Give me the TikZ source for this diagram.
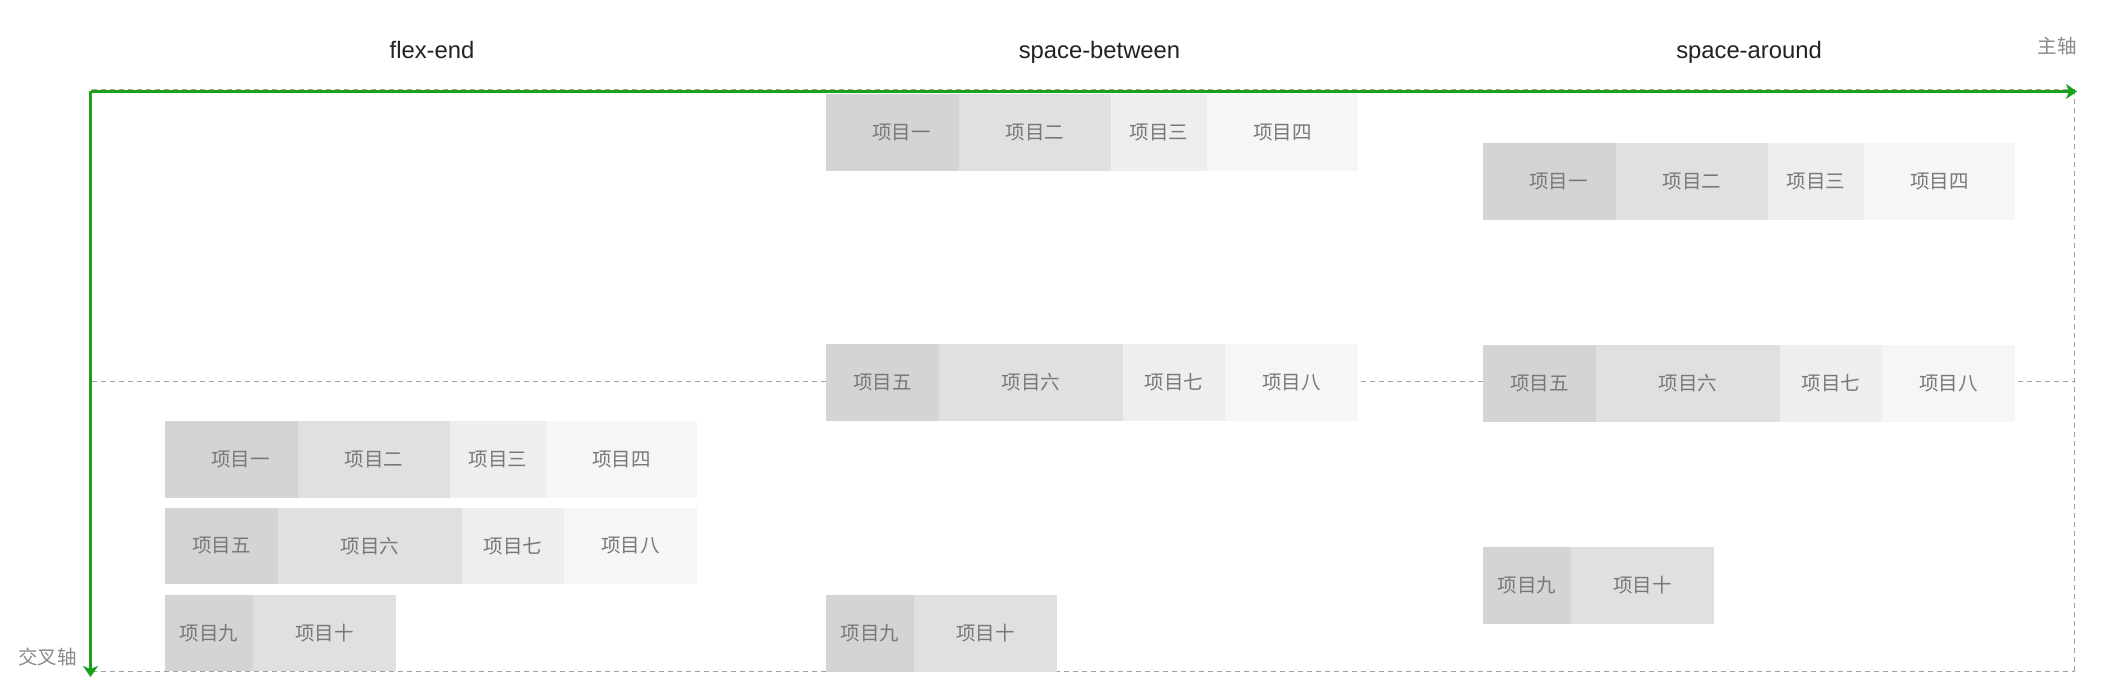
\documentclass[tikz,border=0pt]{standalone}
\usepackage{fontspec}
\setmainfont{Liberation Sans}
\newfontfamily\cjk{Noto Sans CJK SC}
\usetikzlibrary{arrows.meta}
\definecolor{axisgreen}{HTML}{1AA01A}
\definecolor{guidegray}{HTML}{A0A0A0}
\definecolor{cA}{HTML}{D4D4D4}
\definecolor{cB}{HTML}{E0E0E0}
\definecolor{cC}{HTML}{EEEEEE}
\definecolor{cD}{HTML}{F6F6F6}
\definecolor{itemtext}{HTML}{787878}
\definecolor{labeltext}{HTML}{8A8A8A}
\definecolor{titletext}{HTML}{222222}
\tikzset{
  cell/.style={anchor=north west, minimum height=76.5pt, inner sep=0pt, outer sep=0pt,
    font=\cjk\fontsize{19.5}{23}\selectfont, text=itemtext},
  cellA/.style={cell, fill=cA},
  cellB/.style={cell, fill=cB},
  cellC/.style={cell, fill=cC},
  cellD/.style={cell, fill=cD},
  iOne/.style={cellA, minimum width=133pt},
  iTwo/.style={cellB, minimum width=152pt},
  iThree/.style={cellC, minimum width=96pt},
  iFour/.style={cellD, minimum width=151pt},
  iFive/.style={cellA, minimum width=113pt},
  iSix/.style={cellB, minimum width=184pt},
  iSeven/.style={cellC, minimum width=102pt},
  iEight/.style={cellD, minimum width=133pt},
  iNine/.style={cellA, minimum width=88pt},
  iTen/.style={cellB, minimum width=143pt},
  title/.style={anchor=base, text=titletext, font=\fontsize{23.8}{28}\selectfont},
  axislabel/.style={text=labeltext, font=\cjk\fontsize{19.5}{23}\selectfont, inner sep=0pt},
  guide/.style={draw=guidegray, line width=1pt, dash pattern=on 5pt off 4pt},
  axis/.style={draw=axisgreen, line width=2.4pt, -{Stealth[length=11pt, width=15pt, inset=3pt]}},
}
\begin{document}
\begin{tikzpicture}[x=1pt, y=-1pt]
\useasboundingbox (0,0) rectangle (2104,690);
\fill[white] (0,0) rectangle (2104,690);

% reference coordinates
\coordinate (O) at (90.5,91.5);
\coordinate (mainEnd) at (2077,91.5);
\coordinate (crossEnd) at (90.5,677);
\coordinate (topL) at (92,90);
\coordinate (topR) at (2074.5,90);
\coordinate (midL) at (92,381);
\coordinate (midR) at (2074.5,381);
\coordinate (botL) at (92,671);
\coordinate (botR) at (2074.5,671);

% guide lines
\draw[guide] (topL) -- (topR);
\draw[guide] (midL) -- (midR);
\draw[guide] (botL) -- (botR);
\draw[guide] (topR) -- (botR);

% titles
\node[title] (tFE) at (432,59) {flex-end};
\node[title] (tSB) at (1099.5,59) {space-between};
\node[title] (tSA) at (1749,59) {space-around};
\node[axislabel] (lMain) at (2057,46) {主轴};
\node[axislabel] (lCross) at (47.5,657) {交叉轴};

% flex-end
\node[iOne] (fe1) at (165,421) {\hspace*{18pt}项目一};
\node[iTwo] (fe2) at (fe1.north east) {项目二};
\node[iThree] (fe3) at (fe2.north east) {项目三};
\node[iFour] (fe4) at (fe3.north east) {项目四};
\node[iFive] (fe5) at (165,507.5) {项目五};
\node[iSix] (fe6) at (fe5.north east) {项目六};
\node[iSeven] (fe7) at (fe6.north east) {项目七};
\node[iEight] (fe8) at (fe7.north east) {项目八};
\node[iNine] (fe9) at (165,594.5) {项目九};
\node[iTen] (fe10) at (fe9.north east) {项目十};

% space-between
\node[iOne] (sb1) at (826,94) {\hspace*{18pt}项目一};
\node[iTwo] (sb2) at (sb1.north east) {项目二};
\node[iThree] (sb3) at (sb2.north east) {项目三};
\node[iFour] (sb4) at (sb3.north east) {项目四};
\node[iFive] (sb5) at (826,344) {项目五};
\node[iSix] (sb6) at (sb5.north east) {项目六};
\node[iSeven] (sb7) at (sb6.north east) {项目七};
\node[iEight] (sb8) at (sb7.north east) {项目八};
\node[iNine] (sb9) at (826,595) {项目九};
\node[iTen] (sb10) at (sb9.north east) {项目十};

% space-around
\node[iOne] (sa1) at (1483,143) {\hspace*{18pt}项目一};
\node[iTwo] (sa2) at (sa1.north east) {项目二};
\node[iThree] (sa3) at (sa2.north east) {项目三};
\node[iFour] (sa4) at (sa3.north east) {项目四};
\node[iFive] (sa5) at (1483,345) {项目五};
\node[iSix] (sa6) at (sa5.north east) {项目六};
\node[iSeven] (sa7) at (sa6.north east) {项目七};
\node[iEight] (sa8) at (sa7.north east) {项目八};
\node[iNine] (sa9) at (1483,547) {项目九};
\node[iTen] (sa10) at (sa9.north east) {项目十};

% axes
\draw[axis] (O) -- (mainEnd);
\draw[axis] (O) -- (crossEnd);
\end{tikzpicture}
\end{document}
